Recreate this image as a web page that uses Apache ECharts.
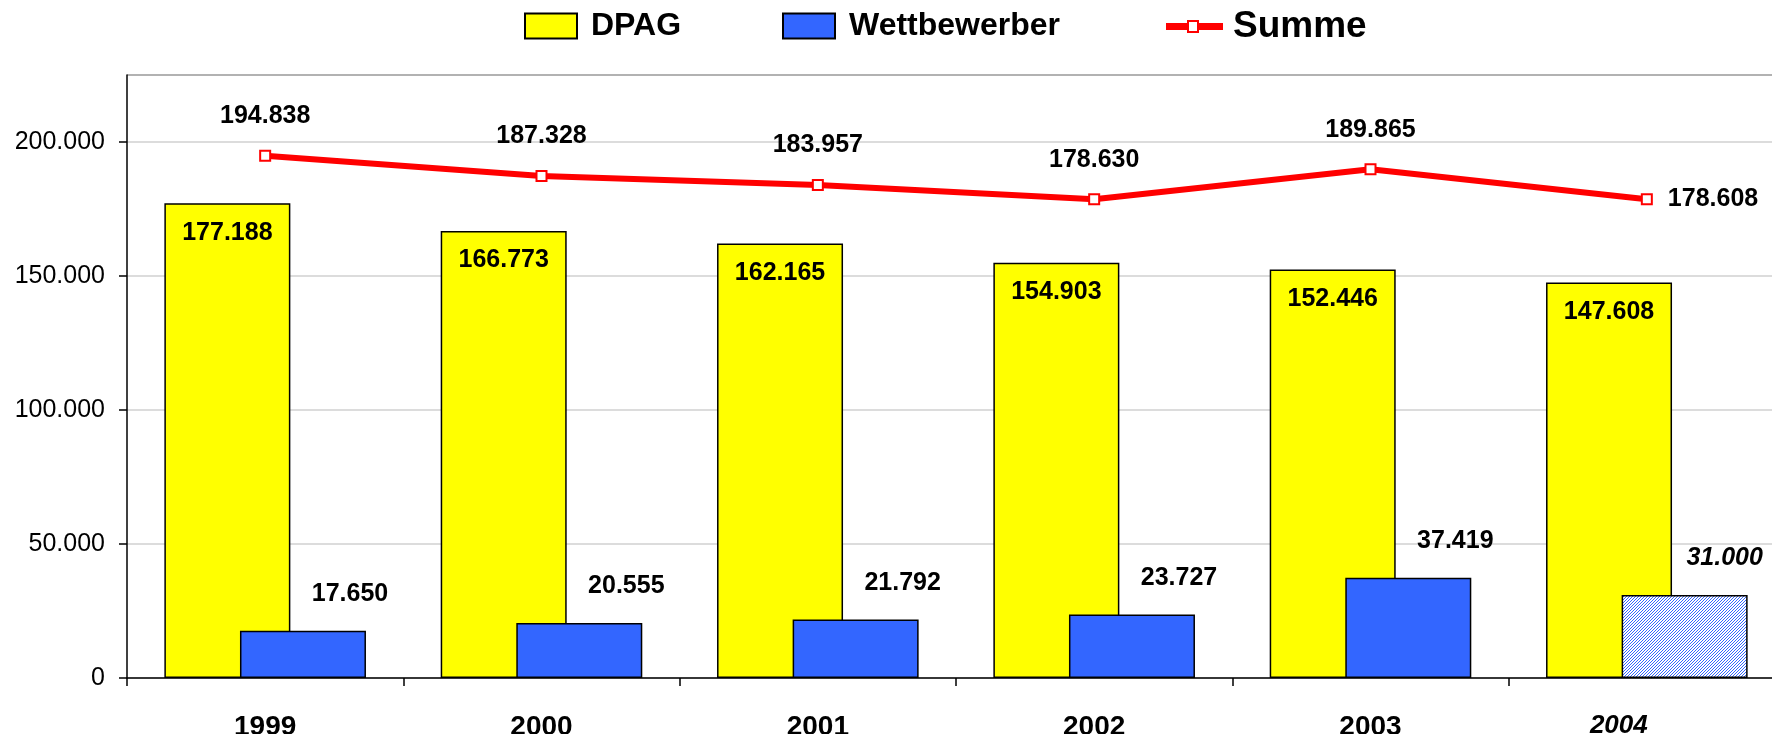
<!DOCTYPE html>
<html>
<head>
<meta charset="utf-8">
<script src="https://cdn.jsdelivr.net/npm/echarts@6/dist/echarts.min.js"></script>
<style>
  html, body { margin: 0; padding: 0; background: #fff; }
  #main { width: 1772px; height: 734px; }
</style>
</head>
<body>
<div id="main"></div>
<script>
// Daten
const years = ['1999', '2000', '2001', '2002', '2003', '2004'];
const dpag = [177188, 166773, 162165, 154903, 152446, 147608];
const wettbewerber = [17650, 20555, 21792, 23727, 37419, 31000];
const summe = [194838, 187328, 183957, 178630, 189865, 178608];
const yTicks = [0, 50000, 100000, 150000, 200000];

const FONT = '"Liberation Sans", Arial, sans-serif';

function fmt(v) {
  return String(v).replace(/\B(?=(\d{3})+(?!\d))/g, '.');
}

// schraffur fuer 2004 (schaetzung)
const pc = document.createElement('canvas');
pc.width = 3; pc.height = 3;
const pctx = pc.getContext('2d');
pctx.fillStyle = '#ffffff';
pctx.fillRect(0, 0, 3, 3);
pctx.fillStyle = '#3366ff';
for (let i = 0; i < 3; i++) {
  pctx.fillRect(i, 2 - i, 1, 1);
}

const lastIdx = years.length - 1;

const chart = echarts.init(document.getElementById('main'));

const legendText = { fontSize: 32, fontWeight: 'bold', color: '#000', fontFamily: FONT, padding: [0, 0, 0, 9] };

const option = {
  animation: false,
  textStyle: { fontFamily: FONT },
  legend: [
    {
      left: 519, top: 5, itemWidth: 52, itemHeight: 25,
      icon: 'rect',
      textStyle: legendText,
      data: ['DPAG']
    },
    {
      left: 777, top: 5, itemWidth: 52, itemHeight: 25,
      icon: 'rect',
      textStyle: legendText,
      data: ['Wettbewerber']
    },
    {
      left: 1161, top: 3, itemWidth: 57, itemHeight: 25,
      textStyle: { fontSize: 37, fontWeight: 'bold', color: '#000', fontFamily: FONT, padding: [0, 0, 0, 5] },
      data: [{
        name: 'Summe',
        icon: 'path://M0 3L21 3L21 10L0 10Z M21 0L33 0L33 13L21 13Z M23 2L23 11L31 11L31 2Z M33 3L57 3L57 10L33 10Z',
        itemStyle: { color: '#ff0000', borderWidth: 0 }
      }]
    }
  ],
  grid: {
    left: 127,
    top: 75,
    right: -13,
    bottom: 56,
    outerBoundsMode: 'none'
  },
  xAxis: {
    type: 'category',
    data: years,
    axisLine: { lineStyle: { color: '#000', width: 1.5 } },
    axisTick: { show: true, length: 8, lineStyle: { color: '#000', width: 1.5 } },
    axisLabel: {
      margin: 35,
      color: '#000',
      formatter: function (v) {
        return v === years[lastIdx] ? '{i|' + v + '}' : '{b|' + v + '}';
      },
      rich: {
        b: { fontSize: 28, fontWeight: 'bold', color: '#000', fontFamily: FONT },
        i: { fontSize: 26, fontWeight: 'bold', fontStyle: 'italic', color: '#000', fontFamily: FONT, padding: [0, 56, 0, 0] }
      }
    }
  },
  yAxis: {
    type: 'value',
    min: 0,
    max: 225000,
    interval: 50000,
    axisLine: { show: true, lineStyle: { color: '#000', width: 1.5 } },
    axisTick: { show: true, length: 8, lineStyle: { color: '#000', width: 1.5 } },
    axisLabel: {
      fontSize: 25,
      color: '#000',
      margin: 22,
      showMaxLabel: false,
      formatter: function (v) { return yTicks.indexOf(v) >= 0 ? fmt(v) : ''; }
    },
    splitLine: {
      show: true,
      lineStyle: { color: ['#d0d0d0', '#d0d0d0', '#d0d0d0', '#d0d0d0', '#d0d0d0', '#999999'], width: 1.5 }
    }
  },
  series: [
    {
      name: 'DPAG',
      type: 'bar',
      data: dpag,
      barWidth: 126,
      barGap: '-40%',
      itemStyle: { color: '#ffff00', borderColor: '#000', borderWidth: 1.5 },
      label: {
        show: true,
        position: 'insideTop',
        distance: 17,
        fontSize: 25,
        fontWeight: 'bold',
        color: '#000',
        fontFamily: FONT,
        formatter: p => fmt(p.value)
      }
    },
    {
      name: 'Wettbewerber',
      type: 'bar',
      data: wettbewerber.map((v, i) => i === lastIdx
        ? { value: v, itemStyle: { color: { image: pc, repeat: 'repeat' } }, label: { fontStyle: 'italic', offset: [40, 0] } }
        : v),
      barWidth: 126,
      barGap: '-40%',
      itemStyle: { color: '#3366ff', borderColor: '#000', borderWidth: 1.5 },
      label: {
        show: true,
        position: 'top',
        distance: 24,
        offset: [47, 0],
        fontSize: 25,
        fontWeight: 'bold',
        color: '#000',
        fontFamily: FONT,
        formatter: p => fmt(p.value)
      }
    },
    {
      name: 'Summe',
      type: 'line',
      data: summe.map((v, i) => i === lastIdx
        ? { value: v, label: { position: 'right', distance: 15 } }
        : v),
      symbol: 'rect',
      symbolSize: 10,
      lineStyle: { color: '#ff0000', width: 6 },
      itemStyle: { color: '#ffffff', borderColor: '#ff0000', borderWidth: 2 },
      z: 5,
      label: {
        show: true,
        position: 'top',
        distance: 21,
        fontSize: 25,
        fontWeight: 'bold',
        color: '#000',
        fontFamily: FONT,
        formatter: p => fmt(p.value)
      }
    }
  ]
};

chart.setOption(option);
</script>
</body>
</html>
